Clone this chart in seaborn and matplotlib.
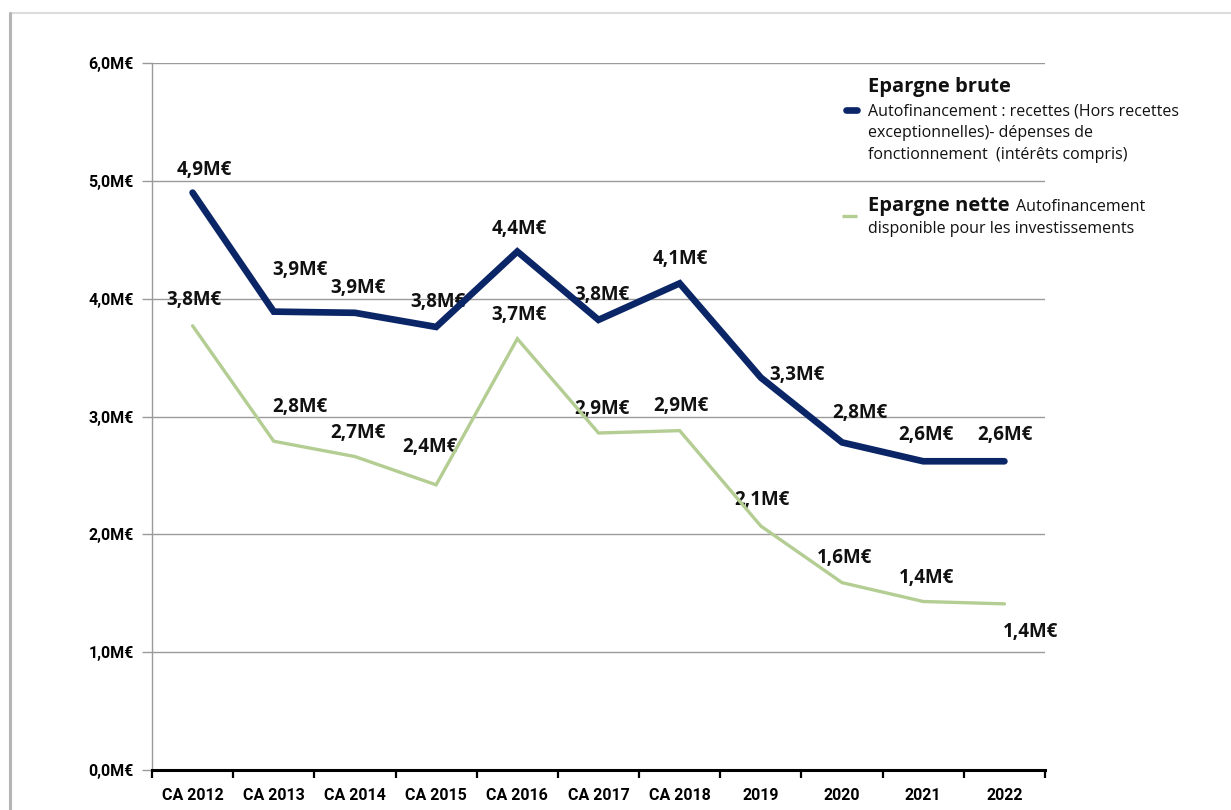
import matplotlib
matplotlib.use("Agg")
import matplotlib.pyplot as plt
from matplotlib.lines import Line2D
import numpy as np
import pandas as pd
import seaborn as sns

# Categories and series (millions of euros)
years = ["CA 2012", "CA 2013", "CA 2014", "CA 2015", "CA 2016", "CA 2017",
         "CA 2018", "2019", "2020", "2021", "2022"]
epargne_brute = [4.90, 3.89, 3.88, 3.76, 4.40, 3.82, 4.13, 3.33, 2.78, 2.62, 2.62]
epargne_nette = [3.77, 2.79, 2.66, 2.42, 3.66, 2.86, 2.88, 2.07, 1.59, 1.43, 1.41]
y_ticks = [0, 1, 2, 3, 4, 5, 6]

# Legend wording
brute_title = "Epargne brute"
brute_desc = ["Autofinancement : recettes (Hors recettes",
              "exceptionnelles)- dépenses de",
              "fonctionnement  (intérêts compris)"]
nette_title = "Epargne nette"
nette_desc = ["Autofinancement", "disponible pour les investissements"]

# Label offsets in pixels (dx, dy) relative to each point
brute_offsets = [(12, 23), (26, 42), (3, 25), (2, 25), (2, 23), (3, 25),
                 (1, 24), (36, 3), (18, 29), (3, 26), (1, 26)]
nette_offsets = [(1, 26), (26, 34), (3, 24), (-6, 38), (2, 24), (3, 24),
                 (1, 25), (1, 26), (2, 25), (3, 23), (26, -28)]

NAVY = "#0b2667"
GREEN = "#b3cd93"

sns.set_theme(style="white")
plt.rcParams["font.family"] = ["Open Sans", "DejaVu Sans"]

fig = plt.figure(figsize=(12.31, 8.10), dpi=100)
ax = fig.add_axes([152 / 1231, 1 - 770 / 810, (1045 - 152) / 1231, (770 - 63) / 810])

df = pd.DataFrame({
    "valeur": epargne_brute + epargne_nette,
    "serie": [brute_title] * len(years) + [nette_title] * len(years),
})
x_pos = np.arange(len(years))
df["x"] = np.tile(x_pos, 2)

sns.lineplot(data=df, x="x", y="valeur", hue="serie", size="serie",
             palette={brute_title: NAVY, nette_title: GREEN},
             sizes={brute_title: 4.8, nette_title: 2.4},
             legend=False, ax=ax, zorder=5, sort=False)
for line in ax.get_lines():
    line.set_solid_capstyle("round")
    line.set_solid_joinstyle("miter")

ax.set_xlim(-0.5, len(years) - 0.5)
ax.set_ylim(0, 6)
ax.set_xlabel("")
ax.set_ylabel("")

# Horizontal gridlines
for v in y_ticks[1:]:
    ax.axhline(v, color="#9a9a9a", lw=1.0, zorder=1)

# Axes styling
for side in ["top", "right"]:
    ax.spines[side].set_visible(False)
ax.spines["left"].set_color("#9a9a9a")
ax.spines["left"].set_linewidth(1.0)
ax.spines["bottom"].set_color("black")
ax.spines["bottom"].set_linewidth(2.2)
ax.spines["bottom"].set_zorder(6)

ax.set_yticks(y_ticks)
ax.set_yticklabels([f"{v},0M€" for v in y_ticks])
ax.tick_params(axis="y", direction="out", length=7, width=1.0, color="#9a9a9a",
               pad=6, labelsize=11.5, left=True)

ax.set_xticks(np.arange(-0.5, len(years)), minor=False)
ax.set_xticklabels([])
ax.set_xticks(x_pos, minor=True)
ax.set_xticklabels(years, minor=True)
ax.tick_params(axis="x", which="major", direction="out", length=6, width=1.6,
               color="black", bottom=True)
ax.tick_params(axis="x", which="minor", length=0, pad=13, labelsize=11.5)
for lab in ax.get_yticklabels() + ax.get_xticklabels(minor=True):
    lab.set_fontweight("bold")
    lab.set_fontfamily(["Roboto", "DejaVu Sans"])
    lab.set_color("black")


def fmt(v):
    return f"{v:.1f}".replace(".", ",") + "M€"


for series, offsets in ((epargne_brute, brute_offsets), (epargne_nette, nette_offsets)):
    for xi, v, (dx, dy) in zip(x_pos, series, offsets):
        ax.annotate(fmt(v), (xi, v), xytext=(dx, dy), textcoords="offset pixels",
                    ha="center", va="center", fontsize=13.5, fontweight="bold",
                    color="#111111", zorder=3)


# Legend drawn as text blocks
def fx(px):
    return px / 1231


def fy(py):
    return 1 - py / 810


fig.add_artist(Line2D([fx(846), fx(857)], [fy(110), fy(110)], color=NAVY,
                      lw=4.8, solid_capstyle="round"))
fig.add_artist(Line2D([fx(842), fx(857)], [fy(216), fy(216)], color=GREEN,
                      lw=2.4, solid_capstyle="butt"))
fig.text(fx(868), fy(92), brute_title, fontsize=14.5, fontweight="bold",
         va="baseline", ha="left", color="#111111")
for i, line_txt in enumerate(brute_desc):
    fig.text(fx(868), fy(115 + 22 * i), line_txt, fontsize=11.5,
             va="baseline", ha="left", color="#111111")
fig.text(fx(868), fy(211), nette_title, fontsize=14.5, fontweight="bold",
         va="baseline", ha="left", color="#111111")
fig.text(fx(1016), fy(211), nette_desc[0], fontsize=11.5,
         va="baseline", ha="left", color="#111111")
fig.text(fx(868), fy(233), nette_desc[1], fontsize=11.5,
         va="baseline", ha="left", color="#111111")

# Chart frame
fig.add_artist(Line2D([fx(10), 1], [fy(13), fy(13)], color="#dcdcdc", lw=1.5))
fig.add_artist(Line2D([fx(10), fx(10)], [fy(13), 0], color="#b5b5b5", lw=2.2))

fig.savefig("out.png", dpi=100)
